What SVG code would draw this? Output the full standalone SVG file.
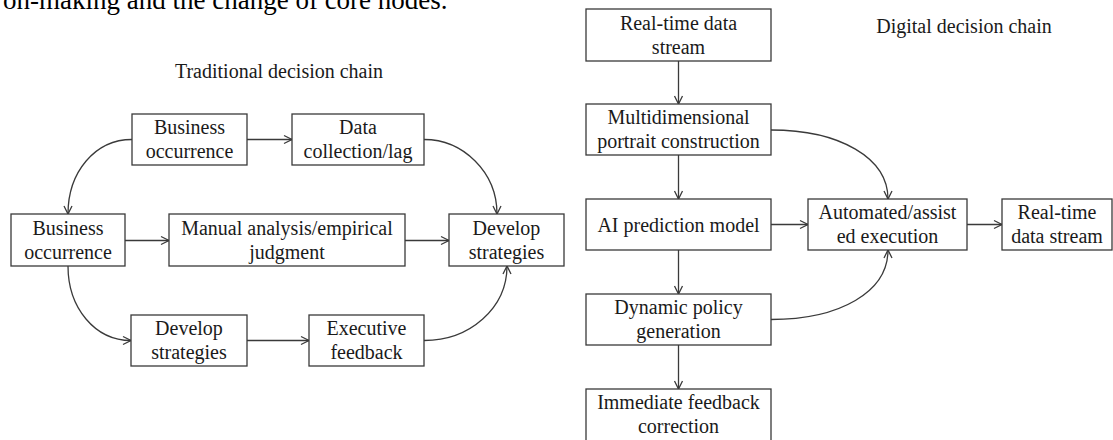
<svg xmlns="http://www.w3.org/2000/svg" width="1113" height="440" viewBox="0 0 1113 440">
  <style>
    .box rect { fill: #ffffff; stroke: #3a3a3a; stroke-width: 1.3; }
    text { font-family: "Liberation Serif", "Times New Roman", serif; fill: #1a1a1a; }
    .lbl { font-size: 20px; text-anchor: middle; }
    .ttl { font-size: 20px; text-anchor: middle; }
    .cap { font-size: 27px; fill: #000; }
    .edge { fill: none; stroke: #3a3a3a; stroke-width: 1.3; marker-end: url(#arrow); }
  </style>
  <defs>
    <marker id="arrow" markerUnits="userSpaceOnUse" markerWidth="10" markerHeight="10" refX="8" refY="4" orient="auto" overflow="visible">
      <path d="M0,0 L8,4 L0,8" fill="none" stroke="#3a3a3a" stroke-width="1.3"/>
    </marker>
  </defs>

  <rect width="1113" height="440" fill="#ffffff"/>

  <!-- running text line above the figures -->
  <text class="cap" x="3" y="9">on-making and the change of core nodes.</text>

  <!-- section titles -->
  <text class="ttl" x="279" y="78">Traditional decision chain</text>
  <text class="ttl" x="964" y="33">Digital decision chain</text>

  <!-- connectors -->
  <g id="connectors">
    <!-- traditional chain -->
    <path class="edge" d="M247,139.5 L292,139.5"/>
    <path class="edge" d="M132,139.5 C95,139.5 68,172 68,214"/>
    <path class="edge" d="M424,139.5 C463,139.5 497,172 497,214"/>
    <path class="edge" d="M125,240.5 L169,240.5"/>
    <path class="edge" d="M405,240.5 L449,240.5"/>
    <path class="edge" d="M68,266 C68,308 95,340.5 131,340.5"/>
    <path class="edge" d="M247,340.5 L309,340.5"/>
    <path class="edge" d="M424,340.5 C470,340.5 507,308 507,266"/>
    <!-- digital chain -->
    <path class="edge" d="M678.5,61 L678.5,104"/>
    <path class="edge" d="M678.5,155 L678.5,199"/>
    <path class="edge" d="M678.5,250 L678.5,294"/>
    <path class="edge" d="M678.5,345 L678.5,389"/>
    <path class="edge" d="M771,224.5 L808,224.5"/>
    <path class="edge" d="M967,224.5 L1002,224.5"/>
    <path class="edge" d="M771,130 C840,130 888,158 888,199"/>
    <path class="edge" d="M771,319.5 C840,319.5 888,292 888,250"/>
  </g>

  <!-- traditional decision chain nodes -->
  <g id="t-business-top" class="box">
    <rect x="132" y="114" width="115" height="51"/>
    <text class="lbl" x="189.5" y="134">Business</text>
    <text class="lbl" x="189.5" y="158.3">occurrence</text>
  </g>
  <g id="t-data-collection" class="box">
    <rect x="292" y="114" width="132" height="51"/>
    <text class="lbl" x="358" y="134">Data</text>
    <text class="lbl" x="358" y="158.3">collection/lag</text>
  </g>
  <g id="t-business-left" class="box">
    <rect x="11" y="214" width="114" height="52"/>
    <text class="lbl" x="68" y="234.5">Business</text>
    <text class="lbl" x="68" y="258.8">occurrence</text>
  </g>
  <g id="t-manual-analysis" class="box">
    <rect x="169" y="214" width="236" height="52"/>
    <text class="lbl" x="287" y="234.5">Manual analysis/empirical</text>
    <text class="lbl" x="287" y="258.8">judgment</text>
  </g>
  <g id="t-develop-right" class="box">
    <rect x="449" y="214" width="115" height="52"/>
    <text class="lbl" x="506.5" y="234.5">Develop</text>
    <text class="lbl" x="506.5" y="258.8">strategies</text>
  </g>
  <g id="t-develop-bottom" class="box">
    <rect x="131" y="315" width="116" height="51"/>
    <text class="lbl" x="189" y="335">Develop</text>
    <text class="lbl" x="189" y="359.3">strategies</text>
  </g>
  <g id="t-executive-feedback" class="box">
    <rect x="309" y="315" width="115" height="51"/>
    <text class="lbl" x="366.5" y="335">Executive</text>
    <text class="lbl" x="366.5" y="359.3">feedback</text>
  </g>

  <!-- digital decision chain nodes -->
  <g id="d-realtime-stream" class="box">
    <rect x="586" y="9" width="185" height="52"/>
    <text class="lbl" x="678.5" y="29.5">Real-time data</text>
    <text class="lbl" x="678.5" y="53.8">stream</text>
  </g>
  <g id="d-portrait" class="box">
    <rect x="586" y="104" width="185" height="51"/>
    <text class="lbl" x="678.5" y="124">Multidimensional</text>
    <text class="lbl" x="678.5" y="148.3">portrait construction</text>
  </g>
  <g id="d-ai-model" class="box">
    <rect x="586" y="199" width="185" height="51"/>
    <text class="lbl" x="678.5" y="231.5">AI prediction model</text>
  </g>
  <g id="d-policy" class="box">
    <rect x="586" y="294" width="185" height="51"/>
    <text class="lbl" x="678.5" y="314">Dynamic policy</text>
    <text class="lbl" x="678.5" y="338.3">generation</text>
  </g>
  <g id="d-feedback" class="box">
    <rect x="586" y="389" width="185" height="52"/>
    <text class="lbl" x="678.5" y="409">Immediate feedback</text>
    <text class="lbl" x="678.5" y="433.3">correction</text>
  </g>
  <g id="d-execution" class="box">
    <rect x="808" y="199" width="159" height="51"/>
    <text class="lbl" x="887.5" y="219">Automated/assist</text>
    <text class="lbl" x="887.5" y="243.3">ed execution</text>
  </g>
  <g id="d-realtime-out" class="box">
    <rect x="1002" y="199" width="110" height="51"/>
    <text class="lbl" x="1057" y="219">Real-time</text>
    <text class="lbl" x="1057" y="243.3">data stream</text>
  </g>
</svg>
